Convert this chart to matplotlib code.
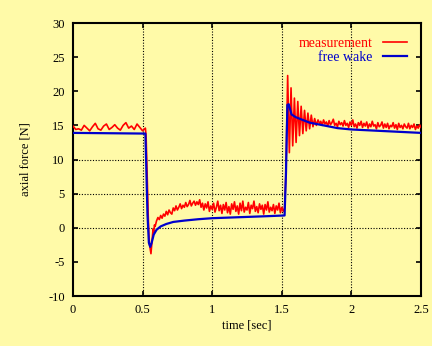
import numpy as np
import matplotlib.pyplot as plt

plt.rcParams['font.family'] = ['Liberation Serif', 'DejaVu Serif']
plt.rcParams['axes.unicode_minus'] = False

meas_pre = [14.9, 14.4, 14.5, 14.3, 15.0, 14.6, 14.2, 14.8, 15.3, 14.5, 14.3, 14.9, 15.2,
            14.4, 14.7, 15.1, 14.6, 14.3, 15.0, 15.4, 14.6, 14.9, 14.4, 15.2, 14.7, 14.2, 14.6]
meas_drop = [13.5, 10.0, 6.0, 2.0, -1.0, -2.5, -3.2, -3.8, -2.6, -1.5, -0.2, -0.6, 0.4, 0.2]
meas_mid = [1.0, 1.5, 1.2, 1.8, 1.4, 2.0, 1.7, 2.4, 1.9, 2.6, 2.2, 2.0, 2.9, 2.5, 3.2, 2.6,
            3.0, 3.5, 2.8, 3.3, 3.0, 3.7, 3.1, 3.4, 4.0, 3.2, 3.6, 3.9, 3.3, 3.8, 3.4, 4.1,
            3.0, 3.6, 2.6, 3.5, 2.9, 3.8, 2.4, 3.2, 2.7, 3.6, 2.3, 3.0, 3.9, 2.5, 3.3, 2.1,
            3.4, 2.6, 3.7, 2.2, 3.1, 2.0, 3.5, 2.7, 3.8, 2.4, 3.2, 2.0, 3.6, 2.5, 3.9, 2.3,
            3.0, 2.6, 3.7, 2.1, 3.3, 2.8, 3.9, 2.4, 3.1, 2.2, 3.5, 2.7, 3.3, 2.0, 3.4, 2.6,
            3.8, 2.3, 3.0, 2.5, 3.4, 2.1, 3.2, 2.6, 3.6, 2.2, 3.0, 2.4, 2.9]
meas_jump = [8.0, 22.3, 11.0, 20.5, 12.0, 19.0, 12.5, 18.5, 13.5, 17.8, 13.8, 17.2, 14.2,
             16.8, 14.5, 16.5, 14.8, 16.0, 15.0, 15.8, 15.2]
meas_post = [15.6, 15.0, 15.8, 15.2, 15.5, 14.9, 15.7, 15.1, 15.4, 15.9, 15.0, 15.3, 14.8,
             15.6, 15.1, 15.4, 14.9, 15.7, 15.0, 15.3, 14.7, 15.5, 15.0, 15.8, 14.8, 15.2,
             14.6, 15.4, 15.0, 15.6, 14.7, 15.3, 14.9, 15.5, 14.6, 15.2, 14.8, 15.6, 14.9,
             15.1, 14.5, 15.4, 14.8, 15.0, 15.5, 14.6, 15.2, 14.7, 15.3, 14.5, 15.0, 14.8,
             15.4, 14.6, 15.1, 14.4, 15.3, 14.7, 15.0, 14.5, 15.2, 14.8, 14.6, 15.3, 14.5,
             15.0, 14.7, 15.2, 14.4, 14.9, 14.6, 15.1, 14.7]

t_meas = np.concatenate([np.linspace(0.0, 0.52, len(meas_pre)),
                         np.linspace(0.525, 0.59, len(meas_drop)),
                         np.linspace(0.60, 1.52, len(meas_mid)),
                         np.linspace(1.53, 1.7725, len(meas_jump)),
                         np.linspace(1.78, 2.5, len(meas_post))])
meas = np.concatenate([meas_pre, meas_drop, meas_mid, meas_jump, meas_post])

# ---------------- free wake ----------------
t_fw = [0, 0.52, 0.525, 0.535, 0.545, 0.555, 0.565, 0.58, 0.6, 0.63, 0.67, 0.72, 0.8, 0.9,
        1.0, 1.2, 1.4, 1.52, 1.53, 1.54, 1.55, 1.57, 1.6, 1.65, 1.7, 1.8, 1.9, 2.0, 2.2, 2.5]
fw = [13.9, 13.8, 10.0, 2.0, -2.2, -2.8, -2.2, -1.0, -0.3, 0.2, 0.55, 0.85, 1.05, 1.25,
      1.4, 1.55, 1.7, 1.8, 8.0, 18.0, 18.1, 16.6, 16.2, 15.8, 15.4, 15.0, 14.6, 14.4, 14.2, 13.9]

bg = '#fffaa8'
fig = plt.figure(figsize=(4.32, 3.46), dpi=100, facecolor=bg)
ax = fig.add_axes([0.169, 0.1445, 0.8055, 0.789], facecolor=bg)

# grid (only where the original shows it)
for gy in [0, 5, 10]:
    ax.axhline(gy, color='black', lw=0.8, ls=(0, (1, 1.5)), zorder=1)
for gx in [0.5, 1.0, 1.5, 2.0]:
    ax.axvline(gx, color='black', lw=0.8, ls=(0, (1, 1.5)), zorder=1)

ax.plot(t_meas, meas, color='#ff0000', lw=1.2, label='measurement', zorder=3)
ax.plot(t_fw, fw, color='#0000cc', lw=1.6, label='free wake', zorder=4)

ax.set_xlim(0, 2.5)
ax.set_ylim(-10, 30)
ax.set_xticks([0, 0.5, 1, 1.5, 2, 2.5])
ax.set_xticklabels(['0', '0.5', '1', '1.5', '2', '2.5'])
ax.set_yticks(range(-10, 31, 5))
ax.tick_params(direction='in', length=3.5, width=1.2, top=True, right=True,
               labelsize=9, pad=6)
for s in ax.spines.values():
    s.set_linewidth(1.5)

ax.set_xlabel('time [sec]', fontsize=9, labelpad=2)
ax.set_ylabel('axial force [N]', fontsize=9, labelpad=12)

leg = ax.legend(loc='upper right', frameon=False, markerfirst=False, fontsize=10,
                handlelength=1.7, handletextpad=0.8, labelspacing=0.05,
                borderaxespad=0.6, labelcolor='linecolor')

fig.savefig('out.png', dpi=100, facecolor=bg)
